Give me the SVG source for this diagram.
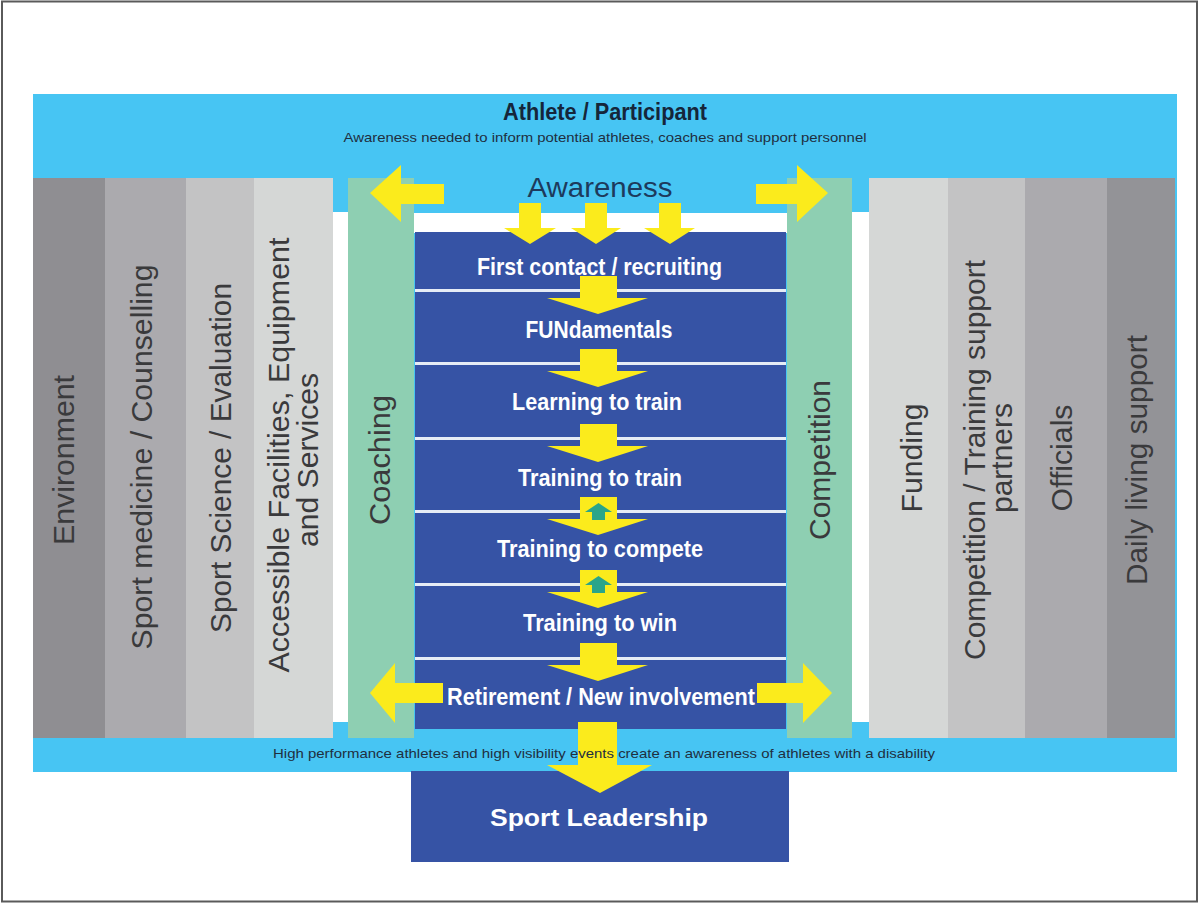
<svg xmlns="http://www.w3.org/2000/svg" width="1199" height="904" viewBox="0 0 1199 904">
<defs>
<style>
.vt{font-family:"Liberation Sans",Arial,sans-serif;font-size:30px;fill:#3a3a3c;text-anchor:middle}
.st{font-family:"Liberation Sans",Arial,sans-serif;font-size:23px;font-weight:bold;fill:#ffffff;text-anchor:middle}
.ya{fill:#FBEB1C}
.ta{fill:#2AA58A}
.sep{fill:#E6ECF6}
</style>
</defs>
<rect x="0" y="0" width="1199" height="904" fill="#ffffff"/>
<rect x="2" y="1.5" width="1195" height="900" fill="none" stroke="#5a5a5a" stroke-width="2"/>

<g id="athlete-band">
<rect x="33" y="94" width="1144" height="678" fill="#47C5F3"/>
<rect x="333" y="212" width="15" height="510" fill="#ffffff"/>
<rect x="852" y="212" width="17" height="510" fill="#ffffff"/>
<rect x="413" y="213" width="376" height="20" fill="#ffffff"/>
<text x="605" y="120" font-family="Liberation Sans, Arial, sans-serif" font-size="23" font-weight="bold" fill="#15263a" text-anchor="middle" textLength="204" lengthAdjust="spacingAndGlyphs">Athlete / Participant</text>
<text x="605" y="142" font-family="Liberation Sans, Arial, sans-serif" font-size="13" fill="#1f2f3f" text-anchor="middle" textLength="523" lengthAdjust="spacingAndGlyphs">Awareness needed to inform potential athletes, coaches and support personnel</text>
</g>

<g id="environment"><rect x="33" y="178" width="72" height="560" fill="#8F8E92"/><text class="vt" transform="translate(74,460) rotate(-90)" textLength="170" lengthAdjust="spacingAndGlyphs">Environment</text></g>
<g id="sport-medicine"><rect x="105" y="178" width="81" height="560" fill="#ABAAAE"/><text class="vt" transform="translate(152,457) rotate(-90)" textLength="385" lengthAdjust="spacingAndGlyphs">Sport medicine / Counselling</text></g>
<g id="sport-science"><rect x="186" y="178" width="68" height="560" fill="#C3C3C4"/><text class="vt" transform="translate(231,458) rotate(-90)" textLength="350" lengthAdjust="spacingAndGlyphs">Sport Science / Evaluation</text></g>
<g id="facilities"><rect x="254" y="178" width="79" height="560" fill="#D5D7D6"/><text class="vt" transform="translate(289,455) rotate(-90)" textLength="435" lengthAdjust="spacingAndGlyphs">Accessible Facilities, Equipment</text><text class="vt" transform="translate(318,460) rotate(-90)" textLength="174" lengthAdjust="spacingAndGlyphs">and Services</text></g>

<g id="coaching"><rect x="348" y="178" width="66" height="560" fill="#8ECFB2"/><text class="vt" transform="translate(390,460) rotate(-90)" textLength="130" lengthAdjust="spacingAndGlyphs">Coaching</text></g>
<g id="competition"><rect x="787" y="178" width="65" height="560" fill="#8ECFB2"/><text class="vt" transform="translate(830,460) rotate(-90)" textLength="160" lengthAdjust="spacingAndGlyphs">Competition</text></g>

<g id="funding"><rect x="869" y="178" width="79" height="560" fill="#D5D7D6"/><text class="vt" transform="translate(922,458) rotate(-90)" textLength="109" lengthAdjust="spacingAndGlyphs">Funding</text></g>
<g id="competition-training"><rect x="948" y="178" width="77" height="560" fill="#C3C3C4"/><text class="vt" transform="translate(985,460) rotate(-90)" textLength="400" lengthAdjust="spacingAndGlyphs">Competition / Training support</text><text class="vt" transform="translate(1012,458) rotate(-90)" textLength="110" lengthAdjust="spacingAndGlyphs">partners</text></g>
<g id="officials"><rect x="1025" y="178" width="82" height="560" fill="#ABAAAE"/><text class="vt" transform="translate(1072,458) rotate(-90)" textLength="107" lengthAdjust="spacingAndGlyphs">Officials</text></g>
<g id="daily-living"><rect x="1107" y="178" width="68" height="560" fill="#939397"/><text class="vt" transform="translate(1147,460) rotate(-90)" textLength="250" lengthAdjust="spacingAndGlyphs">Daily living support</text></g>

<g id="pathway">
<rect x="415" y="232" width="371" height="497" fill="#3653A5"/>
<rect class="sep" x="415" y="289" width="371" height="3"/>
<rect class="sep" x="415" y="362" width="371" height="3"/>
<rect class="sep" x="415" y="437" width="371" height="3"/>
<rect class="sep" x="415" y="510" width="371" height="3"/>
<rect class="sep" x="415" y="583" width="371" height="3"/>
<rect class="sep" x="415" y="657" width="371" height="3"/>
</g>

<g id="sport-leadership"><rect x="411" y="771" width="378" height="91" fill="#3653A5"/><text class="st" x="599" y="826" font-size="27" textLength="218" lengthAdjust="spacingAndGlyphs">Sport Leadership</text></g>

<g id="connectors">
<polygon class="ya" points="444,184 401,184 401,165 370,193 401,222 401,204 444,204"/>
<polygon class="ya" points="756,184 797,184 797,165 828,193 797,222 797,204 756,204"/>
<polygon class="ya" points="519,203 541,203 541,228 556,228 530,244 504,228 519,228"/>
<polygon class="ya" points="585,203 607,203 607,228 621,228 596,244 571,228 585,228"/>
<polygon class="ya" points="659,203 681,203 681,228 695,228 670,244 644,228 659,228"/>
<polygon class="ya" points="580,276 617,276 617,298 648,298 598,314 547,298 580,298"/>
<polygon class="ya" points="580,349 617,349 617,371 648,371 598,387 547,371 580,371"/>
<polygon class="ya" points="580,424 617,424 617,446 648,446 598,462 547,446 580,446"/>
<polygon class="ya" points="580,497 617,497 617,519 648,519 598,535 547,519 580,519"/>
<polygon class="ya" points="580,570 617,570 617,592 648,592 598,608 547,592 580,592"/>
<polygon class="ya" points="580,643 617,643 617,665 648,665 598,681 547,665 580,665"/>
<polygon class="ta" points="592,520 605,520 605,512 612,512 598.5,503 585,512 592,512"/>
<polygon class="ta" points="592,593 605,593 605,585 612,585 598.5,576 585,585 592,585"/>
<polygon class="ya" points="443,683 395,683 395,663 370,693 395,723 395,703 443,703"/>
<polygon class="ya" points="757,683 803,683 803,663 832,693 803,723 803,703 757,703"/>
<polygon class="ya" points="578,722 617,722 617,765 652,765 600,793 547,765 578,765"/>
</g>

<g id="band-caption"><text x="604" y="758" font-family="Liberation Sans, Arial, sans-serif" font-size="13" fill="#1f2f3f" text-anchor="middle" textLength="662" lengthAdjust="spacingAndGlyphs">High performance athletes and high visibility events create an awareness of athletes with a disability</text></g>
<g id="awareness"><text x="600" y="197" font-family="Liberation Sans, Arial, sans-serif" font-size="27" fill="#1D3A5C" text-anchor="middle" textLength="145" lengthAdjust="spacingAndGlyphs">Awareness</text></g>
<g id="first-contact"><text class="st" x="599.5" y="275" textLength="245" lengthAdjust="spacingAndGlyphs">First contact / recruiting</text></g>
<g id="fundamentals"><text class="st" x="599" y="338" textLength="147" lengthAdjust="spacingAndGlyphs">FUNdamentals</text></g>
<g id="learning-to-train"><text class="st" x="597" y="410" textLength="170" lengthAdjust="spacingAndGlyphs">Learning to train</text></g>
<g id="training-to-train"><text class="st" x="600" y="486" textLength="164" lengthAdjust="spacingAndGlyphs">Training to train</text></g>
<g id="training-to-compete"><text class="st" x="600" y="557" textLength="206" lengthAdjust="spacingAndGlyphs">Training to compete</text></g>
<g id="training-to-win"><text class="st" x="600" y="631" textLength="154" lengthAdjust="spacingAndGlyphs">Training to win</text></g>
<g id="retirement"><text class="st" x="601" y="705" textLength="308" lengthAdjust="spacingAndGlyphs">Retirement / New involvement</text></g>
</svg>
